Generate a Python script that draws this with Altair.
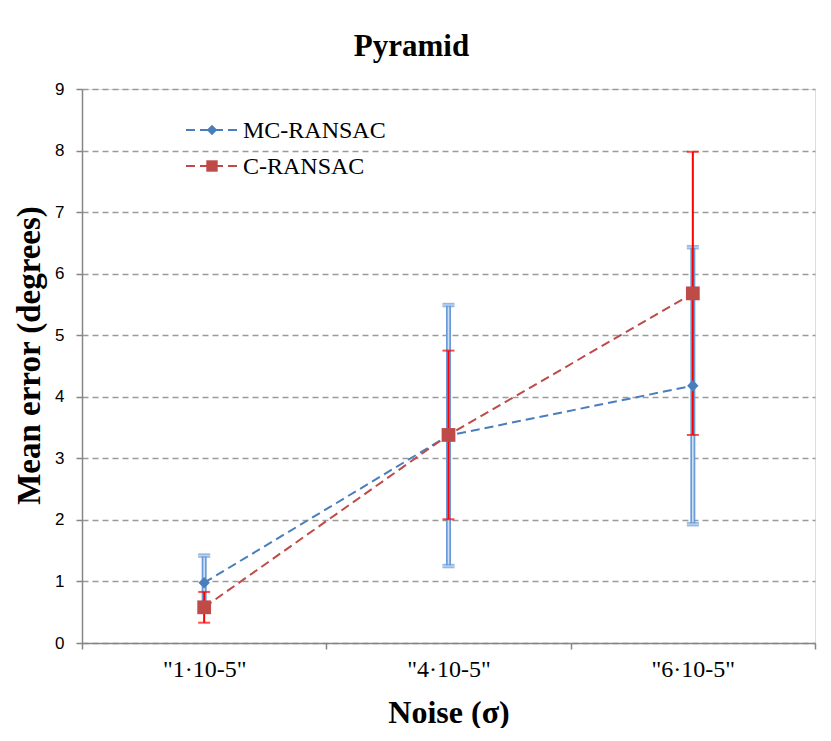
import altair as alt
import pandas as pd

categories = ['"1·10-5"', '"4·10-5"', '"6·10-5"']
series_names = ["MC-RANSAC", "C-RANSAC"]
mc_mean = [0.98, 3.37, 4.18]
mc_err = [0.44, 2.12, 2.25]
c_mean = [0.58, 3.38, 5.68]
c_err = [0.25, 1.37, 2.30]
y_ticks = [0, 1, 2, 3, 4, 5, 6, 7, 8, 9]

BLUE = "#4a7ebb"
BLUE_BAR = "#6a9bd8"
BLUE_IN = "#d0e0f4"
RED = "#be4b48"
RED_BAR = "#ff0000"
SERIF = "Liberation Serif"

rows = []
for name, means, errs in [(series_names[0], mc_mean, mc_err), (series_names[1], c_mean, c_err)]:
    for cat, m, e in zip(categories, means, errs):
        rows.append({"series": name, "cat": cat, "mean": m, "err": e})
df = pd.DataFrame(rows)

base = alt.Chart(df).transform_calculate(
    lo="datum.mean - datum.err", hi="datum.mean + datum.err"
)

xenc = alt.X(
    "cat:N",
    sort=categories,
    scale=alt.Scale(paddingInner=0, paddingOuter=0),
    axis=alt.Axis(
        title="Noise (σ)",
        tickBand="extent",
        labelAngle=0,
        labelFont=SERIF,
        labelFontSize=24,
        labelColor="#000000",
        labelPadding=8,
        tickSize=6,
        tickColor="#868686",
        tickWidth=1.5,
        domainColor="#868686",
        domainWidth=1.5,
        grid=False,
        titleFont=SERIF,
        titleFontSize=32,
        titleFontWeight="bold",
        titleColor="#000000",
        titleBaseline="alphabetic",
        titleY=79,
    ),
)
yscale = alt.Scale(domain=[0, 9], nice=False, zero=True)
yaxis = alt.Axis(
    title="Mean error (degrees)",
    values=y_ticks,
    labelFont="Liberation Sans",
    labelFontSize=17,
    labelColor="#000000",
    labelPadding=12,
    tickSize=6,
    tickColor="#868686",
    tickWidth=1.5,
    domainColor="#868686",
    domainWidth=1.5,
    grid=True,
    gridColor="#9a9a9a",
    gridDash=[6, 4],
    gridWidth=1.5,
    titleFont=SERIF,
    titleFontSize=33,
    titleFontWeight="bold",
    titleColor="#000000",
    titleX=-36,
    titleY=266,
    titleAlign="center",
)

layers = []
# error bars
for name, col in [(series_names[0], "blue"), (series_names[1], "red")]:
    b = base.transform_filter(alt.datum.series == name)
    if col == "blue":
        layers.append(b.mark_rule(color=BLUE_BAR, strokeWidth=5).encode(
            x=xenc, y=alt.Y("lo:Q", scale=yscale, axis=yaxis), y2="hi:Q"))
        layers.append(b.mark_rule(color=BLUE_IN, strokeWidth=1.6).encode(
            x=xenc, y=alt.Y("lo:Q", scale=yscale, axis=yaxis), y2="hi:Q"))
        for f in ["lo", "hi"]:
            layers.append(b.mark_tick(color=BLUE_BAR, size=12, thickness=4.5).encode(
                x=xenc, y=alt.Y(f + ":Q", scale=yscale, axis=yaxis)))
            layers.append(b.mark_tick(color=BLUE_IN, size=12, thickness=1.3).encode(
                x=xenc, y=alt.Y(f + ":Q", scale=yscale, axis=yaxis)))
    else:
        layers.append(b.mark_rule(color=RED_BAR, strokeWidth=2).encode(
            x=xenc, y=alt.Y("lo:Q", scale=yscale, axis=yaxis), y2="hi:Q"))
        for f in ["lo", "hi"]:
            layers.append(b.mark_tick(color=RED_BAR, size=12, thickness=2).encode(
                x=xenc, y=alt.Y(f + ":Q", scale=yscale, axis=yaxis)))

# lines
for name, color in [(series_names[0], BLUE), (series_names[1], RED)]:
    b = base.transform_filter(alt.datum.series == name)
    layers.append(b.mark_line(color=color, strokeWidth=2, strokeDash=[9, 5]).encode(
        x=xenc, y=alt.Y("mean:Q", scale=yscale, axis=yaxis)))

# markers
layers.append(base.transform_filter(alt.datum.series == series_names[0]).mark_point(
    shape="diamond", filled=True, color=BLUE, size=130, opacity=1).encode(
    x=xenc, y=alt.Y("mean:Q", scale=yscale, axis=yaxis)))
layers.append(base.transform_filter(alt.datum.series == series_names[1]).mark_point(
    shape="square", filled=True, color=RED, size=190, opacity=1).encode(
    x=xenc, y=alt.Y("mean:Q", scale=yscale, axis=yaxis)))

# legend (manual, positioned in pixels)
leg_specs = [(series_names[0], BLUE, "diamond", 110, 41), (series_names[1], RED, "square", 130, 77)]
for name, color, shape, size, ly in leg_specs:
    ld = alt.Chart(alt.Data(values=[{"s": name}]))
    layers.append(ld.mark_rule(color=color, strokeWidth=2, strokeDash=[9, 5]).encode(
        x=alt.value(104), x2=alt.value(156), y=alt.value(ly)))
    layers.append(ld.mark_point(shape=shape, filled=True, color=color, size=size, opacity=1).encode(
        x=alt.value(130), y=alt.value(ly)))
    layers.append(ld.mark_text(align="left", baseline="middle", font=SERIF, fontSize=24,
                               color="#000000").encode(
        x=alt.value(161), y=alt.value(ly + 1), text="s:N"))

chart = alt.layer(*layers).properties(
    width=733,
    height=554,
    title=alt.TitleParams(
        "Pyramid", font=SERIF, fontSize=31, fontWeight="bold", color="#000000",
        anchor="middle", dx=-37, offset=17,
    ),
    autosize=alt.AutoSizeParams(type="none"),
    padding={"left": 74, "top": 81, "right": 8, "bottom": 85},
).configure_view(stroke=None).configure_title(
    font=SERIF, fontSize=31, fontWeight="bold", color="#000000"
).configure(background="white")

chart.save("out.html", embed_options={"renderer": "svg", "actions": False})
